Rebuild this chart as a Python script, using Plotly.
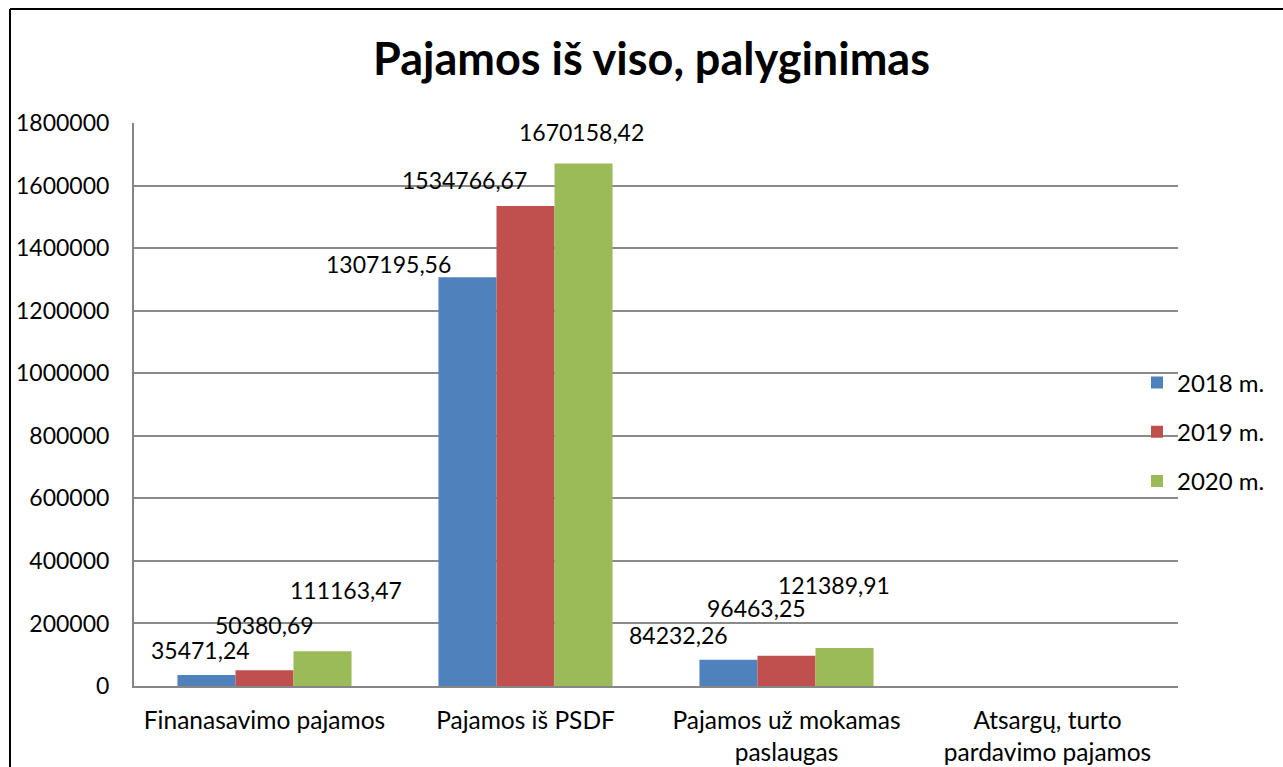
import plotly.graph_objects as go

categories = ["Finanasavimo pajamos", "Pajamos iš PSDF",
              "Pajamos už mokamas<br>paslaugas", "Atsargų, turto<br>pardavimo pajamos"]
series_names = ["2018 m.", "2019 m.", "2020 m."]
values_2018 = [35471.24, 1307195.56, 84232.26, None]
values_2019 = [50380.69, 1534766.67, 96463.25, None]
values_2020 = [111163.47, 1670158.42, 121389.91, None]
y_ticks = [0, 200000, 400000, 600000, 800000, 1000000, 1200000, 1400000, 1600000, 1800000]

colors = ["#4F81BD", "#C0504D", "#9BBB59"]
all_values = [values_2018, values_2019, values_2020]

# label placement (pixel shifts from bar-top centre), mimicking the manually moved labels
series_xshift = [-58, 0, 58]
label_dx = [[-6, -79, -50, 0], [0, -61, -30, 0], [23, -2, -11, 0]]
label_dy = [[25, 13, 25, 0], [45, 26, 48, 0], [61, 32, 63, 0]]

FONT = "Lato, 'Open Sans', sans-serif"

# plot area in page coords: x 134..1178, y 123..686
PL, PR, PT, PB = 134, 1178, 123, 686
def px(x):
    return (x - PL) / (PR - PL)
def py(y):
    return (PB - y) / (PB - PT)

fig = go.Figure()
for i, (name, vals) in enumerate(zip(series_names, all_values)):
    fig.add_trace(go.Bar(
        x=categories, y=vals, name=name,
        marker=dict(color=colors[i], line=dict(width=0)),
        legendgroup=name,
    ))

annotations = []
for i, vals in enumerate(all_values):
    for j, v in enumerate(vals):
        if v is None:
            continue
        annotations.append(dict(
            x=categories[j], y=v, xref="x", yref="y",
            text=f"{v:.2f}".replace(".", ","),
            showarrow=False, xanchor="center", yanchor="middle",
            xshift=series_xshift[i] + label_dx[i][j], yshift=label_dy[i][j],
            font=dict(family=FONT, size=23, color="#000000"),
        ))

annotations.append(dict(
    text="<b>Pajamos iš viso, palyginimas</b>", xref="paper", yref="paper",
    x=px(651), y=py(58), showarrow=False,
    xanchor="center", yanchor="middle",
    font=dict(family=FONT, size=45, color="#000000"),
))

shapes = [
    dict(type="line", xref="paper", yref="paper",
         x0=px(10), x1=px(1300), y0=py(9), y1=py(9),
         line=dict(color="#000000", width=2)),
    dict(type="line", xref="paper", yref="paper",
         x0=px(10), x1=px(10), y0=py(9), y1=py(800),
         line=dict(color="#000000", width=2)),
]

fig.update_layout(
    width=1283, height=767,
    margin=dict(l=PL, r=1283 - PR, t=PT, b=767 - PB, autoexpand=False),
    paper_bgcolor="white", plot_bgcolor="white",
    barmode="group", bargap=0.333, bargroupgap=0,
    font=dict(family=FONT, size=23, color="#000000"),
    legend=dict(
        x=px(1137), y=py(432),
        xanchor="left", yanchor="middle",
        font=dict(family=FONT, size=24, color="#000000"),
        bgcolor="rgba(0,0,0,0)", tracegroupgap=15,
        itemwidth=30,
    ),
    annotations=annotations,
    shapes=shapes,
    showlegend=True,
)
fig.update_xaxes(
    showline=True, linecolor="#868686", linewidth=2, automargin=False,
    showgrid=False, ticks="outside", ticklen=12, tickcolor="rgba(0,0,0,0)",
    tickfont=dict(family=FONT, size=24.5, color="#000000"),
    fixedrange=True,
)
fig.update_yaxes(
    range=[0, 1800000], tickvals=y_ticks, ticktext=[str(t) for t in y_ticks],
    showline=True, linecolor="#868686", linewidth=2, automargin=False,
    showgrid=True, gridcolor="#8A8A8A", gridwidth=1.5,
    zeroline=False,
    ticks="outside", ticklen=18, tickcolor="rgba(0,0,0,0)",
    tickfont=dict(family=FONT, size=23, color="#000000"),
    fixedrange=True,
)

fig.write_html(
    "out.html",
    config={"displayModeBar": False},
    post_script="document.body.style.margin='0';document.body.style.overflow='hidden';",
)
